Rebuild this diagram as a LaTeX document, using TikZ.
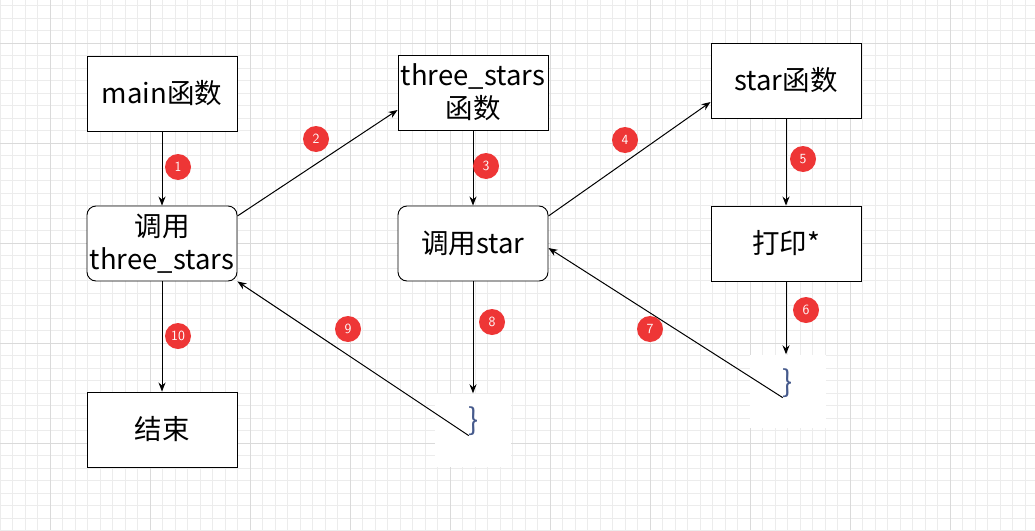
\documentclass[tikz,border=0pt]{standalone}
\usepackage{fontspec}
\setmainfont{Liberation Sans}
\newfontfamily\cjk{Noto Sans CJK SC}
\usetikzlibrary{arrows.meta}
\definecolor{minorgrid}{RGB}{236,236,236}
\definecolor{majorgrid}{RGB}{218,218,218}
\definecolor{badge}{RGB}{238,54,54}
\definecolor{bracecol}{RGB}{70,90,140}
\begin{document}
\begin{tikzpicture}[x=1pt,y=-1pt,
  box/.style={draw=black,fill=white,line width=0.9pt,minimum width=150pt,minimum height=75pt,inner sep=1pt,align=center,font=\cjk\fontsize{27.5}{33}\selectfont},
  rbox/.style={box,rounded corners=9pt},
  patch/.style={fill=white,minimum width=76pt,minimum height=73pt,inner sep=0pt},
  brace/.style={text=bracecol,font=\cjk\fontsize{30}{30}\selectfont,inner sep=0pt},
  arr/.style={-{Stealth[length=9pt,width=7pt]},line width=1pt},
  num/.style={circle,fill=badge,text=white,minimum size=26pt,inner sep=0pt,font=\sffamily\fontsize{14}{14}\selectfont}]
\useasboundingbox (0,0) rectangle (1035,530);
\fill[white] (0,0) rectangle (1035,530);
% grid
\foreach \i in {0,...,83} {\draw[minorgrid,line width=0.5pt] ({0.0+12.5*\i},0) -- ({0.0+12.5*\i},530);}
\foreach \j in {0,...,43} {\draw[minorgrid,line width=0.5pt] (0,{5.5+12.5*\j}) -- (1035,{5.5+12.5*\j});}
\foreach \i in {0,...,10} {\draw[majorgrid,line width=0.6pt] ({50+100*\i},0) -- ({50+100*\i},530);}
\foreach \j in {0,...,5} {\draw[majorgrid,line width=0.6pt] (0,{43+100*\j}) -- (1035,{43+100*\j});}
% white patches behind braces
\node[patch] (p1) at (473,430) {};
\node[patch] (p2) at (788,391) {};
% boxes
\node[box] (main) at (162,93.5) {main函数};
\node[box] (ts) at (473,92.5) {three\_stars\\函数};
\node[box] (star) at (786,80.5) {star函数};
\node[rbox] (cts) at (162,243.5) {调用\\three\_stars};
\node[rbox] (cstar) at (473,243.5) {调用star};
\node[box] (print) at (786,243.5) {打印*};
\node[box] (end) at (162,429.5) {结束};
\node[brace] (b1) at (474,421) {\}};
\node[brace] (b2) at (788,383) {\}};
% connectors
\draw[arr] (main) -- (cts);
\draw[arr] (cts.east |- 0,216) -- (ts.west |- 0,110);
\draw[arr] (ts) -- (cstar);
\draw[arr] (cstar.east |- 0,216) -- (star.west |- 0,102);
\draw[arr] (star) -- (print);
\draw[arr] (print) -- (p2.north -| print);
\draw[arr] (b2.south west) -- (cstar.east |- 0,248);
\draw[arr] (cstar) -- (p1.north -| cstar);
\draw[arr] (b1.south west) -- (cts.south east);
\draw[arr] (cts) -- (end);
% badges
\node[num] (n1) at (178,167) {1};
\node[num] (n2) at (316,139) {2};
\node[num] (n3) at (486,166) {3};
\node[num] (n4) at (625,140) {4};
\node[num] (n5) at (803,159) {5};
\node[num] (n6) at (806,310) {6};
\node[num] (n7) at (650,329) {7};
\node[num] (n8) at (492,322) {8};
\node[num] (n9) at (348,329) {9};
\node[num] (n10) at (178,336) {10};
\end{tikzpicture}
\end{document}
